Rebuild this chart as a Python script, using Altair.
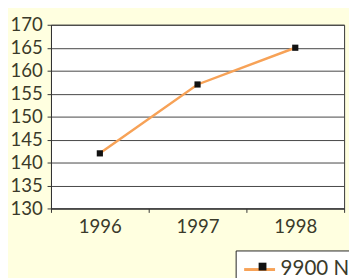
import altair as alt
import pandas as pd

years = ["1996", "1997", "1998"]
values = [142, 157, 165]
series = "9900 N"

df = pd.DataFrame({"year": years, "value": values, "s": [series] * 3, "s2": [series] * 3})

FONT = "Lato"
TXT = "#3a3a2a"

x = alt.X("year:N", title=None, sort=years,
          scale=alt.Scale(type="band", paddingInner=0, paddingOuter=0),
          axis=alt.Axis(labelAngle=0, labelFontSize=19, labelFont=FONT, labelColor=TXT,
                        labelPadding=6, tickBand="extent", tickSize=4, tickColor="#333",
                        domainColor="#333", grid=False))
y = alt.Y("value:Q", title=None,
          scale=alt.Scale(domain=[130, 170], nice=False, zero=False),
          axis=alt.Axis(values=list(range(130, 171, 5)), labelFontSize=19, labelFont=FONT,
                        labelColor=TXT, labelPadding=5, tickSize=4, tickColor="#333",
                        domainColor="#333", gridColor="#444", gridOpacity=1, gridWidth=1))

line = alt.Chart(df).mark_line(strokeWidth=2.5).encode(
    x=x, y=y,
    color=alt.Color("s:N", scale=alt.Scale(range=["#F7A257"]),
                    legend=alt.Legend(title=None, orient="none", legendX=189, legendY=231,
                                      symbolType="stroke", symbolSize=1000, symbolStrokeWidth=3,
                                      symbolOffset=5,
                                      labelFontSize=21, labelFont=FONT, labelColor=TXT,
                                      labelOffset=4, padding=2, strokeColor="#222",
                                      fillColor="white")),
)
pts = alt.Chart(df).mark_point(filled=True, shape="square", size=40, opacity=1).encode(
    x=x, y=y,
    shape=alt.Shape("s2:N", scale=alt.Scale(range=["square"]),
                    legend=alt.Legend(title=None, orient="none", legendX=205, legendY=236,
                                      symbolFillColor="#111", symbolStrokeColor="#111",
                                      symbolSize=64, labelExpr="''", labelFontSize=19,
                                      padding=2, symbolOpacity=1)),
    color=alt.value("#111"),
)

chart = alt.layer(line, pts).properties(
    width=300, height=188,
    padding={"left": 44, "top": 14, "right": 5, "bottom": 68},
    autosize=alt.AutoSizeParams(type="none"),
).configure(background="#FFFFE0").configure_view(fill="white", stroke="#333", strokeWidth=1)

chart.save("out.html", embed_options={"renderer": "svg", "actions": False})
